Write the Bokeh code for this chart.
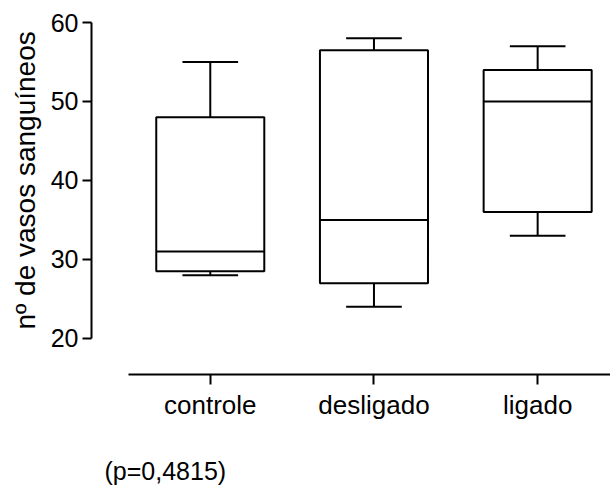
from bokeh.plotting import figure
from bokeh.models import Range1d, FixedTicker, Title, Label
from bokeh.embed import file_html
from bokeh.resources import INLINE

# ---- data ----
categories = ["controle", "desligado", "ligado"]
whisker_low = [28, 24, 33]
q1 = [28.5, 27, 36]
median = [31, 35, 50]
q3 = [48, 56.5, 54]
whisker_high = [55, 58, 57]
y_ticks = [20, 30, 40, 50, 60]
y_label = "nº de vasos sanguíneos"
note = "(p=0,4815)"

FONT = "Liberation Sans"
xpos = [i + 1 for i in range(len(categories))]

p = figure(width=610, height=486, output_backend="svg", toolbar_location=None,
           x_range=Range1d(0.2744, 3.445), y_range=Range1d(1.26, 60),
           min_border_left=90, min_border_right=0, min_border_top=22, min_border_bottom=0)
p.outline_line_color = None
p.xgrid.visible = False
p.ygrid.visible = False
p.background_fill_color = "white"
p.border_fill_color = "white"

box_w = 0.66
cap_w = 0.34
lw = 2

# whiskers
p.segment(x0=xpos, y0=q3, x1=xpos, y1=whisker_high, line_color="black", line_width=lw)
p.segment(x0=xpos, y0=whisker_low, x1=xpos, y1=q1, line_color="black", line_width=lw)
# caps
p.segment(x0=[x - cap_w / 2 for x in xpos], y0=whisker_high,
          x1=[x + cap_w / 2 for x in xpos], y1=whisker_high, line_color="black", line_width=lw)
p.segment(x0=[x - cap_w / 2 for x in xpos], y0=whisker_low,
          x1=[x + cap_w / 2 for x in xpos], y1=whisker_low, line_color="black", line_width=lw)
# boxes
p.vbar(x=xpos, width=box_w, bottom=q1, top=q3, fill_color="white",
       line_color="black", line_width=lw)
# medians
p.segment(x0=[x - box_w / 2 for x in xpos], y0=median,
          x1=[x + box_w / 2 for x in xpos], y1=median, line_color="black", line_width=lw)

# y axis
ya = p.yaxis[0]
ya.ticker = FixedTicker(ticks=y_ticks)
ya.bounds = (min(y_ticks), max(y_ticks))
ya.axis_line_width = lw
ya.major_tick_line_width = lw
ya.major_tick_out = 9
ya.major_tick_in = 0
ya.minor_tick_out = 0
ya.minor_tick_in = 0
ya.major_label_standoff = 4
ya.major_label_text_font = FONT
ya.major_label_text_font_size = "25px"
ya.major_label_text_color = "black"

p.add_layout(Title(text=y_label, align="left", offset=157, standoff=14,
                   text_font=FONT, text_font_size="28px", text_font_style="normal",
                   text_color="black"), "left")

# x axis (detached, below the y range)
xa = p.xaxis[0]
xa.fixed_location = 15.5
xa.ticker = FixedTicker(ticks=xpos)
xa.major_label_overrides = {x: c for x, c in zip(xpos, categories)}
xa.bounds = (0.5, 3.5)
xa.axis_line_width = lw
xa.major_tick_line_width = lw
xa.major_tick_out = 10
xa.major_tick_in = 0
xa.minor_tick_out = 0
xa.minor_tick_in = 0
xa.major_label_standoff = 6
xa.major_label_text_font = FONT
xa.major_label_text_font_size = "26px"
xa.major_label_text_color = "black"

p.add_layout(Label(x=0.354, y=3.22, text=note, text_font=FONT, text_font_size="25px",
                   text_color="black", text_baseline="middle", text_align="left"))

open("out.html", "w").write(file_html(p, INLINE))
